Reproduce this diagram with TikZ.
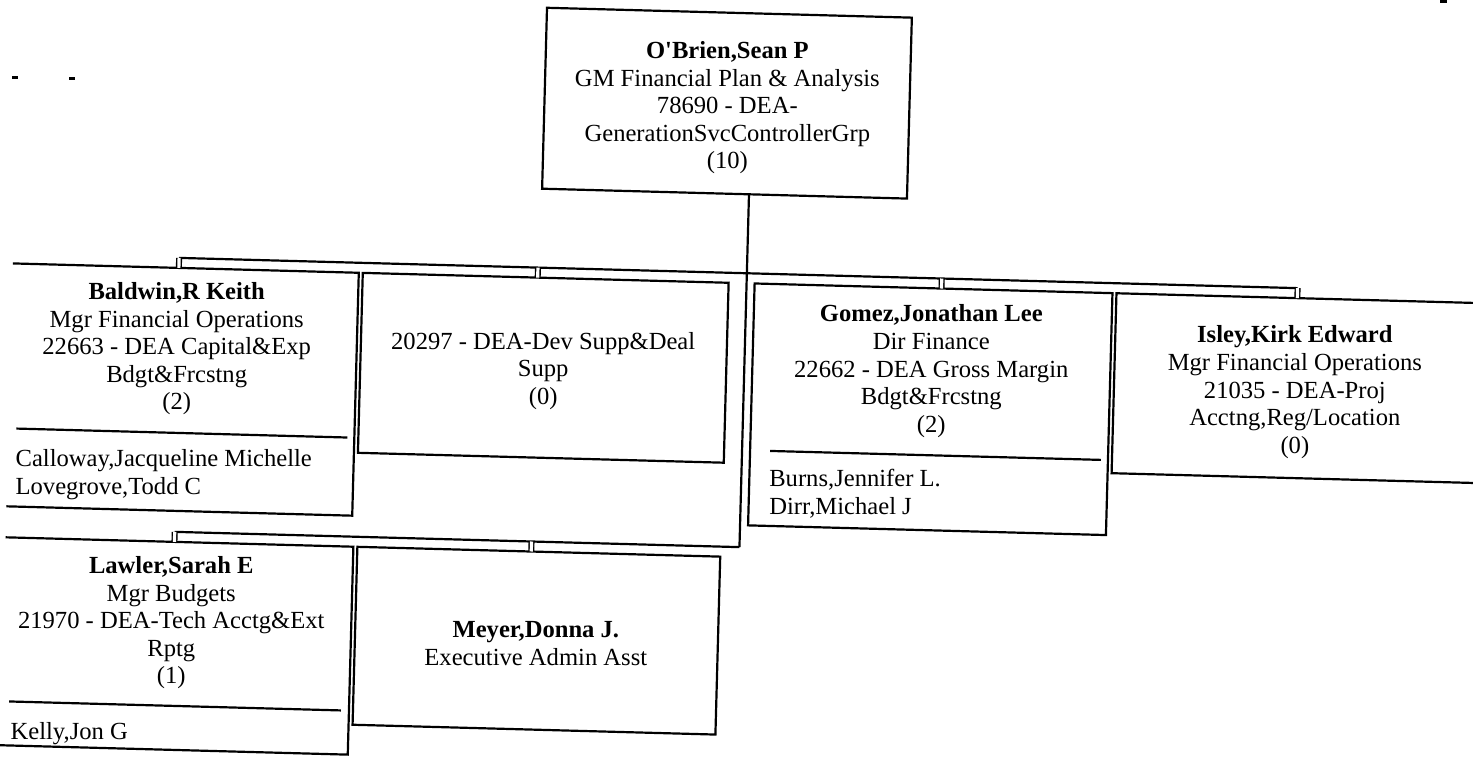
\documentclass[tikz,border=0pt]{standalone}
\usepackage{fontspec}
\setmainfont{Liberation Serif}
\begin{document}
\begin{tikzpicture}[x=0.5pt,y=-0.5pt,
  box/.style={draw, line width=1.1pt, rectangle, inner sep=0pt, outer sep=0pt, transform shape},
  txt/.style={font=\fontsize{12.3}{13.8}\selectfont, align=center, inner sep=0pt},
  lst/.style={font=\fontsize{12.3}{13.8}\selectfont, align=left, anchor=west, inner sep=0pt},
  link/.style={line width=1.1pt},
  stub/.style={double, double distance=1.6pt, line width=0.7pt},
  rule/.style={line width=1.1pt}]
\useasboundingbox (0,0) rectangle (1473,760);
\clip (0,0) rectangle (1473,760);
% scan specks
\fill (12,76) rectangle (18,79);
\fill (69,77) rectangle (75,80);
\fill (1440,0) rectangle (1447,3);
\begin{scope}[rotate around={-1.55:(736,380)}]
\clip (10,-60) rectangle (1600,900);
% boxes
\node[box, minimum width=182.5pt, minimum height=90.5pt] (top) at (719.5,103.5) {};
\node[box, minimum width=179pt, minimum height=121.5pt] (bald) at (177,404.5) {};
\node[box, minimum width=183pt, minimum height=90pt] (dev) at (543,373) {};
\node[box, minimum width=179pt, minimum height=121pt] (gomez) at (931,404) {};
\node[box, minimum width=186pt, minimum height=90pt] (isley) at (1300,373) {};
\node[box, minimum width=180pt, minimum height=104pt] (lawler) at (178,661) {};
\node[box, minimum width=181.5pt, minimum height=89pt] (meyer) at (543.5,646) {};
% dividers
\draw[rule] (18,448) -- (349,448);
\draw[rule] (772,450) -- (1103,450);
\draw[rule] (18,721) -- (350,721);
% texts
\node[txt] (topT) at (720,108) {\textbf{O\textquotesingle Brien,Sean P}\\GM Financial Plan \& Analysis\\78690 - DEA-\\GenerationSvcControllerGrp\\(10)};
\node[txt] (baldT) at (176,364) {\textbf{Baldwin,R Keith}\\Mgr Financial Operations\\22663 - DEA Capital\&Exp\\Bdgt\&Frcstng\\(2)};
\node[lst] (baldL) at (18,494) {Calloway,Jacqueline Michelle\\Lovegrove,Todd C};
\node[txt] (devT) at (543,376) {20297 - DEA-Dev Supp\&Deal\\Supp\\(0)};
\node[txt] (gomezT) at (931,366) {\textbf{Gomez,Jonathan Lee}\\Dir Finance\\22662 - DEA Gross Margin\\Bdgt\&Frcstng\\(2)};
\node[lst] (gomezL) at (772,493) {Burns,Jennifer L.\\Dirr,Michael J};
\node[txt] (isleyT) at (1295,377) {\textbf{Isley,Kirk Edward}\\Mgr Financial Operations\\21035 - DEA-Proj\\Acctng,Reg/Location\\(0)};
\node[txt] (lawlerT) at (178,638) {\textbf{Lawler,Sarah E}\\Mgr Budgets\\21970 - DEA-Tech Acctg\&Ext\\Rptg\\(1)};
\node[lst] (lawlerL) at (20,753) {Kelly,Jon G};
\node[txt] (meyerT) at (543,649) {\textbf{Meyer,Donna J.}\\Executive Admin Asst};
% junctions
\coordinate (jA) at (744,273);
\coordinate (jB) at (744,547);
\coordinate (s1) at (176,273);
\coordinate (s2) at (535,273);
\coordinate (s3) at (939,273);
\coordinate (s4) at (1295,273);
\coordinate (s5) at (179,547);
\coordinate (s6) at (536,547);
% connectors
\draw[link] (jA |- top.south) -- (jB);
\draw[link] (s1) -- (s4);
\draw[link] (s5) -- (jB);
\draw[stub] (s1) -- (s1 |- bald.north);
\draw[stub] (s2) -- (s2 |- dev.north);
\draw[stub] (s3) -- (s3 |- gomez.north);
\draw[stub] (s4) -- (s4 |- isley.north);
\draw[stub] (s5) -- (s5 |- lawler.north);
\draw[stub] (s6) -- (s6 |- meyer.north);
\end{scope}
\end{tikzpicture}
\end{document}
